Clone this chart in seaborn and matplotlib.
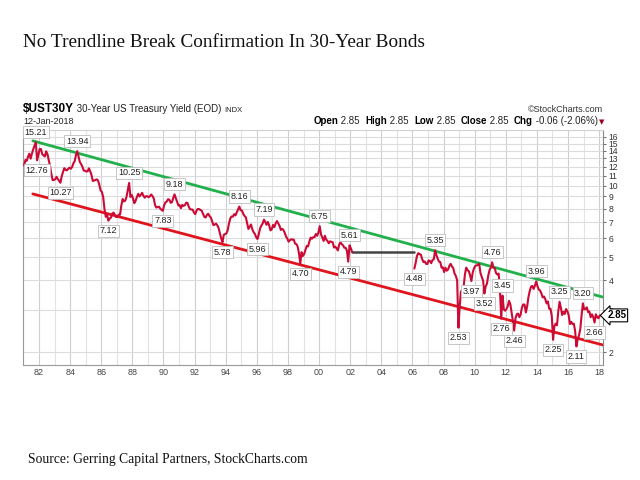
import numpy as np
import pandas as pd
import matplotlib
matplotlib.use("Agg")
import matplotlib.pyplot as plt
import seaborn as sns

# ---------------- data (monthly) ----------------
seg1_start_year = 1981  # Jan 1981 .. Feb 2002
seg1_values = [
    12.14, 12.80, 12.69, 13.20, 13.60, 12.96, 13.59, 14.17, 14.67, 15.21, 12.76, 13.45,  # 1981
    14.22, 14.22, 13.53, 13.37, 13.24, 13.92, 13.55, 12.77, 12.07, 11.17, 10.54, 10.54,  # 1982
    10.63, 10.88, 10.63, 10.48, 10.27, 10.93, 11.40, 11.82, 11.63, 11.58, 11.75, 11.88,  # 1983
    11.75, 11.95, 12.38, 12.65, 13.43, 13.94, 13.21, 12.54, 12.29, 11.98, 11.56, 11.52,  # 1984
    11.45, 11.47, 11.81, 11.47, 11.05, 10.44, 10.50, 10.56, 10.61, 10.50, 10.06, 9.54,   # 1985
    9.40, 8.93, 7.96, 7.39, 7.52, 7.12, 7.27, 7.33, 7.62, 7.70, 7.52, 7.37,              # 1986
    7.39, 7.54, 7.55, 8.25, 8.78, 8.57, 8.64, 8.97, 9.59, 10.25, 8.95, 9.12,             # 1987
    8.83, 8.43, 8.63, 8.95, 9.23, 9.00, 9.14, 9.32, 9.06, 8.89, 9.02, 9.01,              # 1988
    8.93, 9.01, 9.17, 9.03, 8.83, 8.27, 8.08, 8.12, 8.15, 8.00, 7.90, 7.83,              # 1989
    8.26, 8.50, 8.56, 8.76, 8.73, 8.46, 8.50, 8.86, 9.18, 8.86, 8.54, 8.24,              # 1990
    8.27, 8.03, 8.29, 8.21, 8.27, 8.47, 8.45, 8.14, 7.95, 7.93, 7.92, 7.70,              # 1991
    7.58, 7.85, 7.97, 7.96, 7.89, 7.84, 7.60, 7.39, 7.34, 7.53, 7.61, 7.44,              # 1992
    7.34, 7.09, 6.82, 6.85, 6.92, 6.81, 6.63, 6.32, 6.00, 5.78, 6.21, 6.25,              # 1993
    6.29, 6.49, 6.91, 7.27, 7.41, 7.40, 7.58, 7.49, 7.71, 7.94, 8.16, 7.87,              # 1994
    7.85, 7.61, 7.45, 7.36, 6.95, 6.57, 6.72, 6.86, 6.55, 6.37, 6.26, 6.06,              # 1995
    5.96, 6.24, 6.60, 6.79, 6.93, 7.19, 7.03, 6.84, 7.03, 6.81, 6.48, 6.55,              # 1996
    6.83, 6.69, 6.93, 7.09, 6.94, 6.77, 6.51, 6.58, 6.50, 6.33, 6.11, 5.99,              # 1997
    5.81, 5.89, 5.95, 5.92, 5.93, 5.70, 5.68, 5.54, 5.20, 4.70, 5.25, 5.06,              # 1998
    5.16, 5.37, 5.58, 5.55, 5.81, 6.04, 5.98, 6.07, 6.07, 6.26, 6.15, 6.35,              # 1999
    6.75, 6.23, 6.05, 5.85, 6.15, 5.93, 5.85, 5.72, 5.83, 5.80, 5.78, 5.49,              # 2000
    5.54, 5.45, 5.34, 5.65, 5.78, 5.67, 5.61, 5.48, 5.48, 5.32, 4.79, 5.61,              # 2001
    5.45, 5.26,                                                                          # 2002
]

seg2_start = (2006, 2)  # Feb 2006 .. Jan 2018
seg2_values = [
    4.48, 4.73, 5.06, 5.20, 5.15, 5.13, 4.91, 4.77, 4.80, 4.69, 4.68,                    # 2006
    4.85, 4.82, 4.72, 4.87, 4.90, 5.35, 5.11, 4.93, 4.79, 4.77, 4.52, 4.53,              # 2007
    4.33, 4.52, 4.39, 4.44, 4.60, 4.69, 4.57, 4.50, 4.27, 4.17, 4.00, 2.53,              # 2008
    3.13, 3.59, 3.64, 3.76, 4.23, 4.52, 4.41, 4.37, 4.19, 3.97, 4.31, 4.49,              # 2009
    4.60, 4.62, 4.64, 4.69, 4.29, 4.13, 3.99, 3.52, 3.77, 3.87, 4.19, 4.42,              # 2010
    4.52, 4.76, 4.51, 4.50, 4.29, 4.23, 4.27, 3.65, 2.76, 3.45, 3.02, 2.98,              # 2011
    3.03, 3.11, 3.28, 3.18, 2.93, 2.70, 2.46, 2.77, 2.88, 2.90, 2.80, 2.88,              # 2012
    3.08, 3.17, 3.16, 2.93, 3.11, 3.40, 3.61, 3.76, 3.79, 3.68, 3.80, 3.96,              # 2013
    3.77, 3.66, 3.62, 3.52, 3.39, 3.42, 3.33, 3.20, 3.26, 3.04, 3.04, 2.83,              # 2014
    2.25, 2.57, 2.63, 2.59, 2.96, 3.25, 3.07, 2.86, 2.95, 2.89, 3.03, 2.97,              # 2015
    2.86, 2.62, 2.68, 2.62, 2.63, 2.45, 2.11, 2.26, 2.35, 2.50, 2.86, 3.20,              # 2016
    3.02, 3.03, 3.08, 2.94, 2.96, 2.80, 2.88, 2.80, 2.66, 2.88, 2.80, 2.77,              # 2017
    2.85,                                                                                # 2018
]
last_value = 2.85

# discontinuation gap 2002-2006 (flat connector)
gap_years = [2002.12, 2006.08]
gap_values = [5.26, 5.26]

# trend lines
green_years = [1981.6, 2018.25]
green_values = [15.4, 3.40]
red_years = [1981.6, 2018.25]
red_values = [9.22, 2.14]

# labelled highs / lows: (year-month, value, side)
label_months = ["1981-10", "1981-11", "1983-05", "1984-06", "1986-06", "1987-10", "1989-12",
                "1990-09", "1993-10", "1994-11", "1996-01", "1996-06", "1998-10", "2000-01",
                "2001-12", "2001-11", "2006-02", "2007-06", "2008-12", "2009-10", "2010-08",
                "2011-02", "2011-09", "2011-10", "2012-07", "2013-12", "2015-01", "2015-06",
                "2016-07", "2016-12", "2017-09"]
label_values = [15.21, 12.76, 10.27, 13.94, 7.12, 10.25, 7.83,
                9.18, 5.78, 8.16, 5.96, 7.19, 4.70, 6.75,
                5.61, 4.79, 4.48, 5.35, 2.53, 3.97, 3.52,
                4.76, 2.76, 3.45, 2.46, 3.96, 2.25, 3.25,
                2.11, 3.20, 2.66]
label_sides = ["up", "down", "down", "up", "down", "up", "down",
               "up", "down", "up", "down", "up", "down", "up",
               "up", "down", "down", "up", "down", "down", "down",
               "up", "down", "up", "down", "up", "down", "up",
               "down", "up", "down"]

y_ticks = [2, 3, 4, 5, 6, 7, 8, 9, 10, 11, 12, 13, 14, 15, 16]
x_tick_years = list(range(1982, 2019, 2))
x_tick_labels = ["82", "84", "86", "88", "90", "92", "94", "96", "98", "00",
                 "02", "04", "06", "08", "10", "12", "14", "16", "18"]

# ---------------- build frames ----------------
def month_pos(y, m):
    return y + (m - 0.5) / 12.0

seg1_x = [month_pos(seg1_start_year + i // 12, i % 12 + 1) for i in range(len(seg1_values))]
seg2_x = []
y0, m0 = seg2_start
for i in range(len(seg2_values)):
    k = (m0 - 1) + i
    seg2_x.append(month_pos(y0 + k // 12, k % 12 + 1))
df1 = pd.DataFrame({"year": seg1_x, "yield": seg1_values})
df2 = pd.DataFrame({"year": seg2_x, "yield": seg2_values})
label_x = [month_pos(int(s[:4]), int(s[5:])) for s in label_months]

# ---------------- figure ----------------
sns.set_style("white")
plt.rcParams["font.family"] = ["Liberation Sans", "DejaVu Sans"]

W, H = 640, 480
fig = plt.figure(figsize=(6.4, 4.8), dpi=100)
fig.patch.set_facecolor("white")
def fx(px): return px / W
def fy(py): return 1 - py / H

ax = fig.add_axes([fx(23), fy(365), (603 - 23) / W, (365 - 130) / H])
ax.set_yscale("log")
ax.set_ylim(1.764, 17.1)
ax.set_xlim(1980.97, 2018.25)

# grid
for yr in range(1981, 2019):
    ax.axvline(yr, color="#cfcfcf" if yr % 2 == 0 else "#e2e2e2", lw=0.8, zorder=0)
for t in y_ticks:
    ax.axhline(t, color="#dcdcdc", lw=0.8, zorder=0)

# trend lines
sns.lineplot(x=green_years, y=green_values, ax=ax, color="#21b04b", lw=2.0, zorder=3)
sns.lineplot(x=red_years, y=red_values, ax=ax, color="#e0141c", lw=2.0, zorder=3)
# gap connector
sns.lineplot(x=gap_years, y=gap_values, ax=ax, color="#444444", lw=1.8, zorder=4)
# yield series
sns.lineplot(data=df1, x="year", y="yield", ax=ax, color="#cc0a36", lw=1.5, zorder=5)
sns.lineplot(data=df2, x="year", y="yield", ax=ax, color="#cc0a36", lw=1.5, zorder=5)

# labels
for x, v, s in zip(label_x, label_values, label_sides):
    off = 4 if s == "up" else -4
    ax.annotate(f"{v:.2f}", xy=(x, v), xytext=(0, off), textcoords="offset points",
                ha="center", va="bottom" if s == "up" else "top", fontsize=6.5,
                color="#222222", zorder=7, annotation_clip=False,
                bbox=dict(boxstyle="square,pad=0.18", fc="white", ec="#bdbdbd", lw=0.6))

# last value box
ax.annotate(f"{last_value:.2f}", xy=(1.0, last_value), xycoords=("axes fraction", "data"),
            xytext=(3, 0), textcoords="offset points", ha="left", va="center",
            fontsize=7, fontweight="bold", color="black", zorder=8, annotation_clip=False,
            bbox=dict(boxstyle="larrow,pad=0.15", fc="white", ec="black", lw=0.8))

# axes styling
ax.set_yticks(y_ticks)
ax.set_yticklabels([str(t) for t in y_ticks])
ax.yaxis.set_minor_locator(matplotlib.ticker.NullLocator())
ax.yaxis.tick_right()
ax.set_xticks(x_tick_years)
ax.set_xticklabels(x_tick_labels)
ax.tick_params(axis="y", labelsize=6.2, colors="#333333", length=2, pad=2, width=0.5)
ax.tick_params(axis="x", labelsize=6.5, colors="#444444", length=0, pad=2)
ax.set_xlabel("")
ax.set_ylabel("")
for side in ["left", "bottom"]:
    ax.spines[side].set_color("#9a9a9a")
    ax.spines[side].set_linewidth(0.8)
ax.spines["top"].set_color("#d0d0d0")
ax.spines["top"].set_linewidth(0.8)
ax.spines["right"].set_color("#888888")
ax.spines["right"].set_linestyle((0, (1, 1)))
ax.spines["right"].set_linewidth(0.8)

# ---------------- header texts ----------------
renderer = fig.canvas.get_renderer()

def seq_text(x_px, y_px, pieces, align="left"):
    texts = []
    for s, kw in pieces:
        t = fig.text(0, fy(y_px), s, va="baseline", ha="left", **kw)
        texts.append(t)
    widths = [t.get_window_extent(renderer).width for t in texts]
    total = sum(widths)
    x = x_px if align == "left" else x_px - total
    for t, w in zip(texts, widths):
        t.set_x(fx(x))
        x += w

seq_text(23, 112, [("$UST30Y", dict(fontsize=8.5, fontweight="bold", color="black")),
                   (" 30-Year US Treasury Yield (EOD) ", dict(fontsize=7, color="#222222")),
                   ("INDX", dict(fontsize=5.5, color="#222222"))])
fig.text(fx(23), fy(124), "12-Jan-2018", fontsize=6.5, va="baseline", ha="left", color="#222222")
fig.text(fx(603), fy(112), "\u00a9StockCharts.com", fontsize=6.5, va="baseline", ha="right",
         color="#333333")
B = dict(fontsize=7, fontweight="bold", color="black")
R = dict(fontsize=7, color="#222222")
seq_text(598, 124, [("Open", B), (" 2.85  ", R), ("High", B), (" 2.85  ", R), ("Low", B),
                    (" 2.85  ", R), ("Close", B), (" 2.85  ", R), ("Chg", B),
                    (" -0.06 (-2.06%)", R)], align="right")
fig.text(fx(599), fy(124), "\u25bc", fontsize=5, color="#a00020", va="baseline", ha="left",
         family=["DejaVu Sans"])

# title and source
fig.text(fx(23), fy(47), "No Trendline Break Confirmation In 30-Year Bonds",
         fontsize=13.9, family=["Liberation Serif", "DejaVu Serif"], color="#111111",
         va="baseline", ha="left")
fig.text(fx(28), fy(463), "Source: Gerring Capital Partners, StockCharts.com",
         fontsize=9.8, family=["Liberation Serif", "DejaVu Serif"], color="#111111",
         va="baseline", ha="left")

fig.savefig("out.png", dpi=100, facecolor="white")
